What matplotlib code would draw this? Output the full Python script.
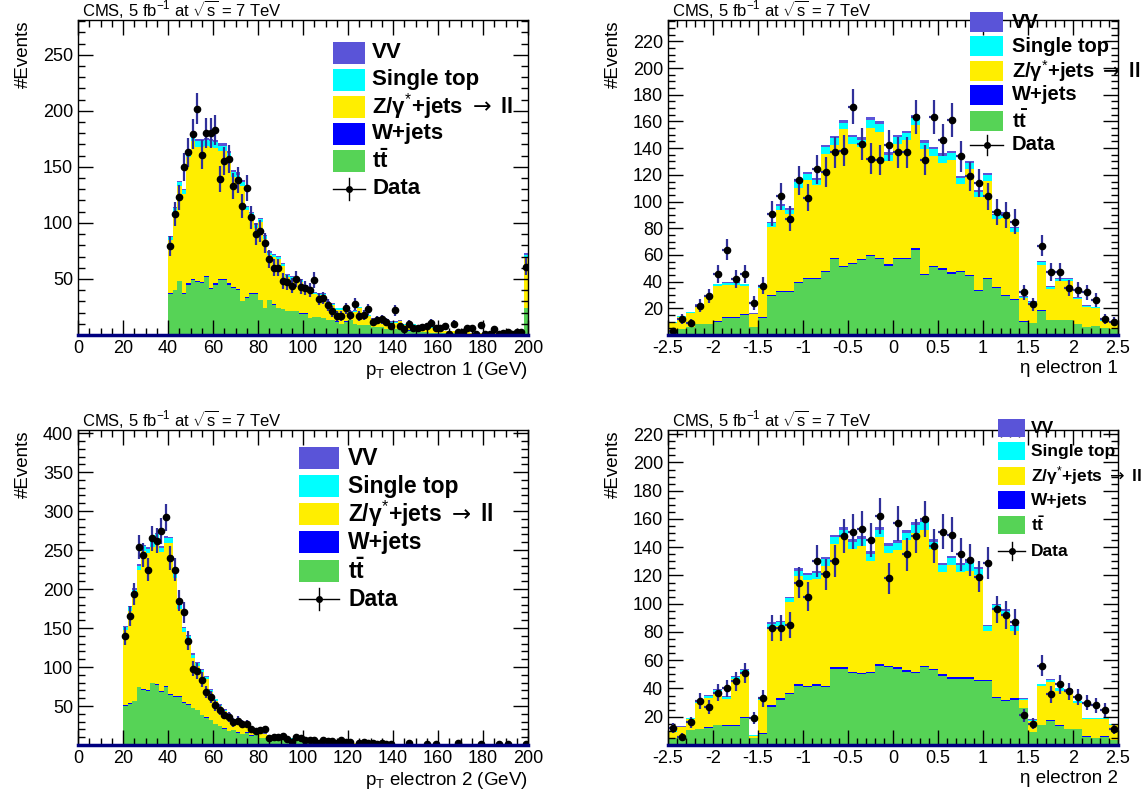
import numpy as np
import matplotlib
matplotlib.use('Agg')
from matplotlib import pyplot as plt
from matplotlib.patches import Rectangle
from matplotlib.lines import Line2D
from matplotlib.ticker import MultipleLocator

plt.rcParams['font.family'] = ['Liberation Sans', 'DejaVu Sans']
plt.rcParams['mathtext.fontset'] = 'custom'
plt.rcParams['mathtext.rm'] = 'Liberation Sans'
plt.rcParams['mathtext.it'] = 'Liberation Sans:italic'
plt.rcParams['mathtext.bf'] = 'Liberation Sans:bold'
plt.rcParams['mathtext.sf'] = 'DejaVu Sans'

# ---------------- pT electron 1 : 2 GeV bins from 40 to 200 ----------------
pt1_edges = np.arange(40, 202, 2)
pt1_tt = [37, 40, 48, 37, 45, 49, 47, 46, 52, 41,
          45, 49, 49, 45, 42, 40, 30, 33, 37, 37,
          31, 24, 31, 27, 24, 23, 21, 21, 21, 19,
          19, 15, 16, 16, 15, 13, 13, 12, 10, 12,
          13, 10, 9, 9, 9, 7, 7, 7, 5, 5,
          5, 5, 4, 4, 4, 3, 3, 3, 2, 2,
          2, 2, 1.5, 1.5, 1, 1, 1, 1, 1, 1,
          1, 1, 1, 1, 1, 1, 1, 1, 1, 24]
pt1_wj = [0.5, 0.5, 0.5, 0.5, 1, 1, 1, 1, 1, 1,
          1, 1, 1, 1, 1, 1, 0.5, 0.5, 0.5, 0.5,
          0.5, 0.5, 0.5, 0.5, 0.5, 0.5, 0.3, 0.3, 0.3, 0.3,
          0.3, 0.3, 0.3, 0.3, 0.3, 0.2, 0.2, 0.2, 0.2, 0.2,
          0.2, 0.2, 0.2, 0.2, 0.2, 0.1, 0.1, 0.1, 0.1, 0.1,
          0.1, 0.1, 0.1, 0.1, 0.1, 0.1, 0.1, 0.1, 0.1, 0.1,
          0, 0, 0, 0, 0, 0, 0, 0, 0, 0,
          0, 0, 0, 0, 0, 0, 0, 0, 0, 0.5]
pt1_zj = [47, 69, 84, 88, 113, 123, 120, 121, 116, 126,
          121, 114, 114, 111, 98, 98, 102, 78, 68, 58,
          69, 61, 40, 42, 43, 38, 30, 28, 26, 28,
          22, 23, 20, 19, 20, 15, 13.5, 10.5, 12.5, 9.5,
          6.5, 10.5, 14.5, 8.5, 7.5, 7, 7, 8, 8, 6,
          6, 7, 5, 6, 5, 5, 5, 4, 4.2, 2.4,
          2.4, 1.4, 2, 2, 1.5, 1.5, 2.5, 0.6, 0.6, 0.6,
          1.6, 0.6, 0.6, 0.6, 0.6, 0.6, 0.6, 0.6, 0.6, 44]
pt1_st = [3, 4, 4, 4, 5, 5, 5, 5, 5, 5,
          5, 5, 5, 5, 4, 4, 4, 3, 3, 3,
          3, 3, 2, 2, 2, 2, 2, 2, 2, 2,
          2, 1, 1, 1, 1, 1, 1, 1, 1, 1,
          1, 1, 1, 1, 1, 0.5, 0.5, 0.5, 0.5, 0.5,
          0.5, 0.5, 0.5, 0.5, 0.5, 0.5, 0.5, 0.5, 0.5, 0.3,
          0.3, 0.3, 0.3, 0.3, 0.3, 0.3, 0.3, 0.2, 0.2, 0.2,
          0.2, 0.2, 0.2, 0.2, 0.2, 0.2, 0.2, 0.2, 0.2, 3]
pt1_vv = [1, 1, 1, 1, 1, 2, 2, 2, 2, 2,
          2, 2, 2, 2, 2, 2, 2, 1, 1, 1,
          1, 1, 1, 1, 1, 1, 1, 1, 1, 1,
          1, 1, 1, 1, 1, 1, 0.5, 0.5, 0.5, 0.5,
          0.5, 0.5, 0.5, 0.5, 0.5, 0.5, 0.5, 0.5, 0.5, 0.5,
          0.5, 0.5, 0.5, 0.5, 0.5, 0.5, 0.5, 0.5, 0.3, 0.3,
          0.3, 0.3, 0.2, 0.2, 0.2, 0.2, 0.2, 0.2, 0.2, 0.2,
          0.2, 0.2, 0.2, 0.2, 0.2, 0.2, 0.2, 0.2, 0.2, 2]
pt1_data = [79, 108, 123, 150, 163, 179, 202, 161, 180, 180,
            183, 139, 155, 157, 133, 138, 115, 131, 105, 90,
            93, 82, 68, 60, 60, 48, 47, 44, 50, 43,
            42, 40, 49, 32, 33, 27, 21, 17, 17, 24,
            18, 28, 17, 18, 23, 12, 13, 14, 12, 8,
            22, 8, 5, 10, 6, 6, 7, 8, 11, 6,
            6, 8, 1, 10, 3, 3, 6, 6, 1, 9,
            1, 1, 5, 1, 2, 3, 1, 3, 3, 61]

# ---------------- pT electron 2 : 2 GeV bins from 20 to 200 ----------------
pt2_edges = np.arange(20, 202, 2)
pt2_tt = [50, 53, 56, 74, 71, 69, 79, 77, 68, 75,
          64, 62, 62, 54, 51, 47, 45, 38, 35, 32,
          27, 24, 21, 18, 19, 16, 14, 16, 12, 14,
          9, 9, 8, 7, 7, 6, 6, 5, 5, 5,
          4, 4, 3.5, 3.5, 3, 3, 2.5, 2.5, 2, 2,
          2, 1.8, 1.8, 1.5, 1.5, 1.5, 1.2, 1.2, 1.2, 1.2,
          1, 1, 1, 1, 0.8, 0.8, 0.8, 0.8, 0.7, 0.7,
          0.7, 0.6, 0.6, 0.6, 0.5, 0.5, 0.5, 0.5, 0.5, 0.5,
          0.4, 0.4, 0.4, 0.4, 0.4, 0.4, 0.4, 0.4, 0.4, 0.5]
pt2_wj = [1, 1, 1, 1, 1, 1, 1, 1, 1, 1,
          1, 1, 1, 1, 1, 0.5, 0.5, 0.5, 0.5, 0.5,
          0.5, 0.5, 0.3, 0.3, 0.3, 0.3, 0.3, 0.3, 0.2, 0.2,
          0.2, 0.2, 0.2, 0.1, 0.1, 0.1, 0.1, 0.1, 0.1, 0.1,
          0, 0, 0, 0, 0, 0, 0, 0, 0, 0,
          0, 0, 0, 0, 0, 0, 0, 0, 0, 0,
          0, 0, 0, 0, 0, 0, 0, 0, 0, 0,
          0, 0, 0, 0, 0, 0, 0, 0, 0, 0,
          0, 0, 0, 0, 0, 0, 0, 0, 0, 0]
pt2_zj = [96.5, 117.5, 137, 149, 177, 176, 174, 185, 178, 183,
          194, 151, 111, 89.5, 83.5, 64.5, 55.5, 55, 49, 35,
          29, 25, 22, 20, 12, 12, 10.5, 6.5, 5.5, 2,
          6, 5, 4.2, 4.2, 4.2, 4.2, 3.2, 3.2, 3.4, 2.4,
          2.5, 2.5, 2, 2, 1.5, 1.5, 1.6, 1.1, 1.6, 1.1,
          1.1, 1, 1, 0.8, 0.8, 0.8, 0.6, 0.6, 0.6, 0.6,
          0.6, 0.6, 0.5, 0.5, 0.5, 0.5, 0.5, 0.4, 0.4, 0.4,
          0.4, 0.4, 0.4, 0.3, 0.3, 0.3, 0.3, 0.3, 0.3, 0.3,
          0.3, 0.3, 0.3, 0.3, 0.3, 0.3, 0.3, 0.3, 0.3, 0.5]
pt2_st = [4, 5, 5, 6, 6, 6, 7, 7, 6, 7,
          6, 6, 5, 5, 4, 4, 4, 3, 3, 3,
          2, 2, 2, 2, 1.5, 1.5, 1, 1, 1, 0.5,
          0.5, 0.5, 0.5, 0.5, 0.5, 0.5, 0.5, 0.5, 0.3, 0.3,
          0.3, 0.3, 0.3, 0.3, 0.3, 0.3, 0.2, 0.2, 0.2, 0.2,
          0.2, 0.1, 0.1, 0.1, 0.1, 0.1, 0.1, 0.1, 0.1, 0.1,
          0.1, 0.1, 0.1, 0.1, 0.1, 0.1, 0.1, 0.1, 0.1, 0.1,
          0.1, 0.1, 0.1, 0.1, 0.1, 0.1, 0.1, 0.1, 0.1, 0.1,
          0.1, 0.1, 0.1, 0.1, 0.1, 0.1, 0.1, 0.1, 0.1, 0.1]
pt2_vv = [1.5, 1.5, 2, 2, 2, 2, 2, 2, 2, 2,
          2, 2, 2, 1.5, 1.5, 1.5, 1.5, 1, 1, 1,
          1, 1, 1, 1, 0.5, 0.5, 0.5, 0.5, 0.5, 0.5,
          0.5, 0.5, 0.3, 0.3, 0.3, 0.3, 0.3, 0.3, 0.3, 0.3,
          0.2, 0.2, 0.2, 0.2, 0.2, 0.2, 0.2, 0.2, 0.2, 0.2,
          0.2, 0.1, 0.1, 0.1, 0.1, 0.1, 0.1, 0.1, 0.1, 0.1,
          0.1, 0.1, 0.1, 0.1, 0.1, 0.1, 0.1, 0.1, 0.1, 0.1,
          0.1, 0.1, 0.1, 0.1, 0.1, 0.1, 0.1, 0.1, 0.1, 0.1,
          0.1, 0.1, 0.1, 0.1, 0.1, 0.1, 0.1, 0.1, 0.1, 0.1]
pt2_data = [140, 166, 194, 254, 244, 225, 265, 262, 274, 292,
            240, 225, 185, 170, 134, 98, 95, 84, 68, 62,
            51, 45, 39, 36, 29, 31, 27, 27, 20, 18,
            19, 20, 9, 10, 10, 12, 8, 4, 10, 9,
            6, 6, 6, 3, 7, 5, 5, 3, 6, 4,
            4, 0, 3, 4, 3, 3, 1, 3, 1, 1,
            0, 0, 0, 3, 0, 0, 0, 1, 0, 1,
            0, 0, 0, 0, 2, 0, 0, 0, 0, 1,
            0, 0, 0, 1, 0, 1, 0, 0, 0, 1]

# ---------------- eta electron 1 / 2 : 0.1 bins from -2.5 to 2.5 ----------------
eta_edges = np.round(np.arange(-2.5, 2.55, 0.1), 2)
eta1_tt = [4, 4.5, 6, 8, 8, 10, 13, 13, 15, 6,
           13, 29, 32, 32, 39, 42, 42, 47, 57, 51,
           53, 56, 59, 57, 52, 57, 57, 64, 45, 51,
           49, 46, 47, 44, 33, 42, 35, 29, 26, 10,
           9, 18, 11, 11, 11, 8, 6, 6.5, 5, 4.5]
eta1_wj = [0, 0.2, 0.2, 0.3, 0.3, 0.5, 0.5, 0.5, 0.5, 0.2,
           0.5, 1, 1, 1, 1, 1, 1, 1, 1, 1,
           1, 1, 1, 1, 1, 1, 1, 1, 1, 1,
           1, 1, 1, 1, 1, 1, 1, 1, 1, 0.3,
           0.3, 0.5, 0.5, 0.5, 0.5, 0.3, 0.3, 0.3, 0.2, 0.2]
eta1_zj = [5.2, 8.7, 10.2, 13.5, 20.5, 26, 24, 24, 21, 9.2,
           22, 51, 61, 58, 70.5, 73.5, 69.5, 87.5, 84.5, 102,
           89, 84, 95, 94, 77, 85, 88, 92, 93, 82,
           79, 84, 65.5, 79.5, 69.5, 72.5, 51, 58, 50, 17.5,
           14.5, 34.3, 23, 29, 29, 18.5, 14.7, 13.2, 5.2, 4.7]
eta1_st = [0.5, 0.5, 0.5, 1, 1, 1.5, 1.5, 1.5, 1.5, 0.5,
           1.5, 3, 3, 3, 4, 4, 4, 5, 5, 5,
           5, 5, 6, 6, 5, 5, 5, 6, 5, 5,
           5, 5, 4, 4, 4, 4, 3, 3, 3, 1,
           1, 2, 1.5, 1.5, 1.5, 1, 1, 1, 0.5, 0.5]
eta1_vv = [0.3, 0.3, 0.3, 0.5, 0.5, 0.5, 0.5, 0.5, 0.5, 0.3,
           0.5, 1, 1, 1, 1.5, 1.5, 1.5, 1.5, 1.5, 2,
           2, 2, 2, 2, 2, 2, 2, 2, 2, 2,
           2, 2, 1.5, 1.5, 1.5, 1.5, 1, 1, 1, 0.5,
           0.5, 0.7, 0.5, 0.5, 0.5, 0.5, 0.3, 0.3, 0.3, 0.3]
eta1_data = [3, 12, 9, 22, 29, 46, 64, 42, 46, 24,
             37, 91, 104, 87, 116, 103, 124, 122, 137, 138,
             171, 143, 132, 131, 142, 137, 137, 163, 131, 163,
             146, 161, 134, 119, 114, 104, 92, 90, 85, 32,
             23, 67, 47, 47, 35, 34, 32, 26, 12, 10]

eta2_tt = [5, 6, 10.6, 11, 12, 14, 13.5, 13.5, 19, 5,
           8, 27, 32, 36, 42, 41, 42, 41, 54, 54,
           51, 50, 51, 56, 55, 54, 52, 51, 55, 53,
           49, 47, 47, 47, 45, 45, 33, 31, 32, 26,
           9, 14, 17, 13.5, 11, 11, 6, 5, 6, 3.5]
eta2_wj = [0.2, 0.2, 0.3, 0.3, 0.5, 0.5, 0.5, 0.5, 0.5, 0.1,
           0.5, 1, 1, 1, 1, 1, 1, 1, 1, 1,
           1, 1, 1, 1, 1, 1, 1, 1, 1, 1,
           1, 1, 1, 1, 1, 1, 1, 1, 1, 0.3,
           0.3, 0.5, 0.5, 0.5, 0.5, 0.3, 0.3, 0.3, 0.2, 0.2]
eta2_zj = [4.2, 6.2, 7.6, 18.5, 21, 23, 18.5, 32.5, 31.3, 1.5,
           23.5, 55, 51, 64, 76.5, 74.5, 74.5, 84.5, 87, 92,
           87, 90, 78, 90, 80, 83, 92, 98, 96, 85,
           72.5, 79.5, 74.5, 75.5, 74.5, 35, 62, 60, 48, 5.5,
           8, 27, 27, 24.5, 26, 18.5, 12, 13, 12, 10.7]
eta2_st = [0.5, 0.5, 0.5, 1, 1.5, 1.5, 1.5, 1.5, 2, 0.3,
           1, 3, 3, 3, 4, 4, 4, 5, 5, 5,
           5, 5, 5, 5, 5, 5, 5, 6, 6, 5,
           5, 5, 5, 5, 4, 3, 3, 3, 3, 1,
           0.7, 1.5, 1.5, 1.5, 1.5, 1, 0.7, 0.7, 0.7, 0.5]
eta2_vv = [0.3, 0.3, 0.3, 0.5, 0.5, 0.5, 0.5, 0.5, 0.7, 0.2,
           0.5, 1, 1, 1, 1.5, 1.5, 1.5, 1.5, 2, 2,
           2, 2, 2, 2, 2, 2, 2, 2, 2, 2,
           1.5, 1.5, 1.5, 1.5, 1.5, 1, 1, 1, 1, 0.5,
           0.3, 0.5, 0.5, 0.5, 0.5, 0.5, 0.3, 0.3, 0.3, 0.3]
eta2_data = [12, 6, 16, 31, 27, 37, 40, 45, 51, 19,
             33, 83, 83, 85, 115, 105, 130, 121, 130, 148,
             151, 153, 145, 162, 118, 157, 135, 148, 160, 141,
             151, 149, 135, 131, 119, 129, 96, 92, 87, 21,
             15, 56, 36, 43, 38, 34, 30, 28, 25, 11]

# colours
c_tt = '#56d356'
c_wj = '#0000ff'
c_zj = '#ffee00'
c_st = '#00ffff'
c_vv = '#5a54d8'
c_err = '#30309a'

leg_labels = ['VV', 'Single top', r'Z/γ$^{*}$+jets $\mathsf{\rightarrow}$ ll', 'W+jets',
              r'$\mathbf{t\bar{t}}$', 'Data']
leg_colors = [c_vv, c_st, c_zj, c_wj, c_tt]

W, H = 1147.0, 789.0


def draw_panel(ax, edges, tt, wj, zj, st, vv, data):
    base = np.zeros(len(tt))
    for vals, col in [(tt, c_tt), (wj, c_wj), (zj, c_zj), (st, c_st), (vv, c_vv)]:
        top = base + np.asarray(vals, float)
        ax.stairs(top, edges, baseline=base, fill=True, color=col, lw=0)
        base = top
    centers = 0.5 * (edges[1:] + edges[:-1])
    half = 0.5 * (edges[1:] - edges[:-1])
    d = np.asarray(data, float)
    m = d > 0
    ax.errorbar(centers[m], d[m], yerr=np.sqrt(d[m]), xerr=half[m], fmt='o',
                ms=4.5, color='k', ecolor=c_err, elinewidth=1.6, capsize=0)


def style_axes(ax, xmaj, xmin, ymin):
    ax.xaxis.set_major_locator(MultipleLocator(xmaj))
    ax.xaxis.set_minor_locator(MultipleLocator(xmin))
    ax.yaxis.set_minor_locator(MultipleLocator(ymin))
    ax.tick_params(which='both', direction='in', top=True, right=True, labelsize=13)
    ax.tick_params(which='major', length=11, width=1)
    ax.tick_params(which='minor', length=5, width=1)
    for s in ax.spines.values():
        s.set_linewidth(1)
    ax.spines['bottom'].set_color('#000080')
    ax.spines['bottom'].set_linewidth(2.5)
    ax.set_ylabel('#Events', loc='top', fontsize=13.5, labelpad=8)
    ax.text(0.01, 1.0, r'CMS, 5 fb$^{-1}$ at $\sqrt{\mathrm{s}}$ = 7 TeV', transform=ax.transAxes,
            fontsize=12, ha='left', va='bottom')


# legend built by hand (pixel layout of the ROOT legend boxes)
def add_legend(x_sw, w_sw, h_sw, x_txt, rows, size):
    for col, lab, yc in zip(leg_colors, leg_labels[:5], rows[:5]):
        fig.add_artist(Rectangle((x_sw / W, 1 - (yc + h_sw / 2) / H), w_sw / W, h_sw / H,
                                 transform=fig.transFigure, color=col, lw=0))
        fig.text(x_txt / W, 1 - yc / H, lab, fontsize=size, weight='bold',
                 va='center', ha='left')
    yd = rows[5]
    xm = x_sw + w_sw / 2
    fig.add_artist(Line2D([x_sw / W, (x_sw + w_sw) / W], [1 - yd / H, 1 - yd / H],
                          transform=fig.transFigure, color='k', lw=1))
    fig.add_artist(Line2D([xm / W, xm / W], [1 - (yd - h_sw / 2) / H, 1 - (yd + h_sw / 2) / H],
                          transform=fig.transFigure, color='k', lw=1))
    fig.add_artist(Line2D([xm / W], [1 - yd / H], transform=fig.transFigure,
                          color='k', marker='o', ms=4))
    fig.text(x_txt / W, 1 - yd / H, leg_labels[5], fontsize=size, weight='bold',
             va='center', ha='left')


eta_ticks = [-2.5, -2, -1.5, -1, -0.5, 0, 0.5, 1, 1.5, 2, 2.5]
eta_ticklabels = ['-2.5', '-2', '-1.5', '-1', '-0.5', '0', '0.5', '1', '1.5', '2', '2.5']

fig = plt.figure(figsize=(11.47, 7.89), dpi=100)
ax1 = fig.add_axes([78 / W, (H - 335) / H, 450 / W, 315 / H])
ax2 = fig.add_axes([668 / W, (H - 335) / H, 450 / W, 315 / H])
ax3 = fig.add_axes([78 / W, (H - 745) / H, 450 / W, 315 / H])
ax4 = fig.add_axes([668 / W, (H - 745) / H, 450 / W, 315 / H])

# top left
draw_panel(ax1, pt1_edges, pt1_tt, pt1_wj, pt1_zj, pt1_st, pt1_vv, pt1_data)
style_axes(ax1, 20, 5, 10)
ax1.set_xlim(0, 200)
ax1.set_ylim(0, 281)
ax1.set_yticks([50, 100, 150, 200, 250])
ax1.set_xlabel(r'p$_{\mathrm{T}}$ electron 1 (GeV)', loc='right', fontsize=13.5, labelpad=2)
add_legend(333, 32, 22, 372, [53, 80, 107, 134, 161, 189], 16)

# top right
draw_panel(ax2, eta_edges, eta1_tt, eta1_wj, eta1_zj, eta1_st, eta1_vv, eta1_data)
style_axes(ax2, 0.5, 0.1, 5)
ax2.set_xlim(-2.5, 2.5)
ax2.set_ylim(0, 236)
ax2.set_yticks(np.arange(20, 240, 20))
ax2.set_xticks(eta_ticks)
ax2.set_xticklabels(eta_ticklabels)
ax2.set_xlabel('η electron 1', loc='right', fontsize=13.5, labelpad=2)
add_legend(970, 33, 20, 1012, [22, 46, 71, 95, 121, 145], 14.5)

# bottom left
draw_panel(ax3, pt2_edges, pt2_tt, pt2_wj, pt2_zj, pt2_st, pt2_vv, pt2_data)
style_axes(ax3, 20, 5, 10)
ax3.set_xlim(0, 200)
ax3.set_ylim(0, 404)
ax3.set_yticks(np.arange(50, 450, 50))
ax3.set_xlabel(r'p$_{\mathrm{T}}$ electron 2 (GeV)', loc='right', fontsize=13.5, labelpad=2)
add_legend(299, 40, 22, 348, [458, 486, 514, 542, 571, 599], 16.5)

# bottom right
draw_panel(ax4, eta_edges, eta2_tt, eta2_wj, eta2_zj, eta2_st, eta2_vv, eta2_data)
style_axes(ax4, 0.5, 0.1, 5)
ax4.set_xlim(-2.5, 2.5)
ax4.set_ylim(0, 223)
ax4.set_yticks(np.arange(20, 240, 20))
ax4.set_xticks(eta_ticks)
ax4.set_xticklabels(eta_ticklabels)
ax4.set_xlabel('η electron 2', loc='right', fontsize=13.5, labelpad=2)
add_legend(998, 27, 18, 1031, [428, 451, 476, 500, 525, 551], 12.5)

fig.savefig('out.png', dpi=100)
